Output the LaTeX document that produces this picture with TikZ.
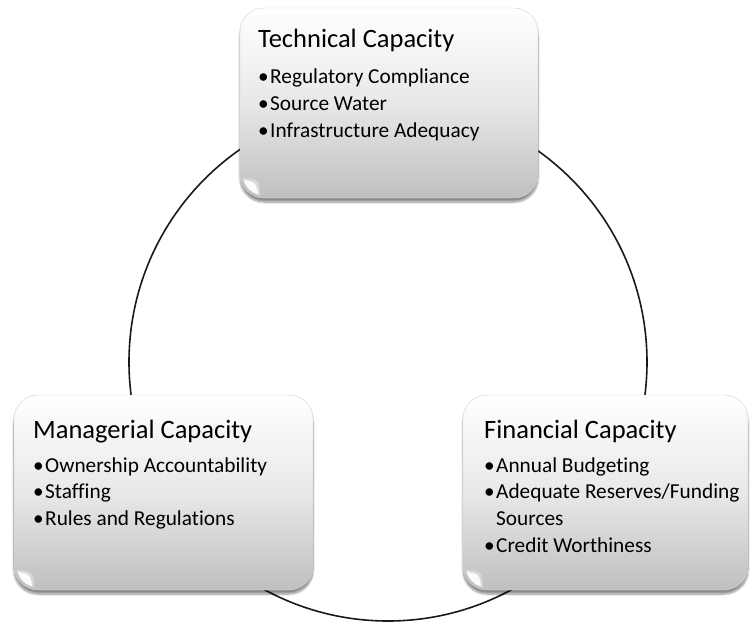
\documentclass[tikz,border=0pt]{standalone}
\usepackage{fontspec}
\setmainfont{Carlito}[Ligatures=NoCommon]
\usetikzlibrary{shadows.blur}
\tikzset{
  capbox/.style={draw=gray!35, line width=0.4pt, rounded corners=24pt,
    top color=white, bottom color=black!25, middle color=black!9,
    blur shadow={shadow xshift=0pt, shadow yshift=-4pt, shadow blur steps=10, shadow opacity=45},
    minimum width=#1, inner sep=0pt},
  boxtitle/.style={anchor=base west, inner sep=0pt, font=\fontsize{26.5}{30}\selectfont},
  boxitem/.style={anchor=base west, inner sep=0pt, font=\fontsize{21.3}{26}\selectfont},
  ring/.style={draw=black!90, line width=1.6pt},
  gloss/.style={fill=white, fill opacity=0.9}
}
\newcommand{\glossat}[1]{%
  \fill[gloss] ([shift={(3.72pt,18.56pt)}]#1.south west)
     arc[start angle=195, end angle=255, radius=21pt]
     .. controls ([shift={(16pt,16pt)}]#1.south west) .. ([shift={(3.72pt,18.56pt)}]#1.south west);
  \fill[white, opacity=0.35] ([shift={(3.2pt,20pt)}]#1.south west)
     arc[start angle=190, end angle=260, radius=21.5pt]
     .. controls ([shift={(19pt,19pt)}]#1.south west) .. ([shift={(3.2pt,20pt)}]#1.south west);
}
\begin{document}
\begin{tikzpicture}[x=1pt,y=-1pt]
\useasboundingbox (0,0) rectangle (753,622);
\coordinate (ctr) at (388,362);
\draw[ring] (ctr) circle (259pt);

% boxes
\node[capbox=298pt, minimum height=190pt] (tech) at (389,103) {};
\node[capbox=299pt, minimum height=195pt] (mgmt) at (163.5,492.5) {};
\node[capbox=285pt, minimum height=195pt] (fin) at (605.5,492.5) {};

% gloss highlights at lower-left corners
\glossat{tech}
\glossat{mgmt}
\glossat{fin}

% Technical
\node[boxtitle] (techT) at (258,47) {Technical Capacity};
\node[boxitem] (techb1) at (258,83) {\textbullet};
\node[boxitem] (techi1) at (270,83) {Regulatory Compliance};
\node[boxitem] (techb2) at (258,110) {\textbullet};
\node[boxitem] (techi2) at (270,110) {Source Water};
\node[boxitem] (techb3) at (258,137) {\textbullet};
\node[boxitem] (techi3) at (270,137) {Infrastructure Adequacy};

% Managerial
\node[boxtitle] (mgmtT) at (33,438) {Managerial Capacity};
\node[boxitem] (mgmtb1) at (33,472) {\textbullet};
\node[boxitem] (mgmti1) at (45,472) {Ownership Accountability};
\node[boxitem] (mgmtb2) at (33,498) {\textbullet};
\node[boxitem] (mgmti2) at (45,498) {Staffing};
\node[boxitem] (mgmtb3) at (33,525) {\textbullet};
\node[boxitem] (mgmti3) at (45,525) {Rules and Regulations};

% Financial
\node[boxtitle] (finT) at (484,438) {Financial Capacity};
\node[boxitem] (finb1) at (484,472) {\textbullet};
\node[boxitem] (fini1) at (496,472) {Annual Budgeting};
\node[boxitem] (finb2) at (484,498) {\textbullet};
\node[boxitem] (fini2) at (496,498) {Adequate Reserves/Funding};
\node[boxitem] (fini2b) at (496,525) {Sources};
\node[boxitem] (finb3) at (484,552) {\textbullet};
\node[boxitem] (fini3) at (496,552) {Credit Worthiness};
\end{tikzpicture}
\end{document}
